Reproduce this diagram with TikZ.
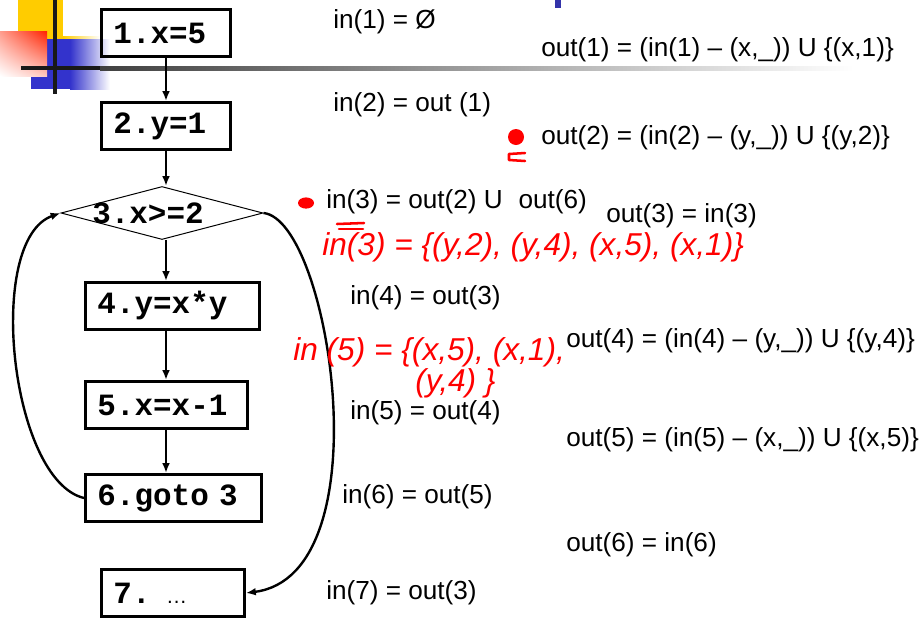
\documentclass[tikz,border=0pt]{standalone}
\usepackage{fontspec}
\setmainfont{Liberation Sans}
\setmonofont{Liberation Mono}
\usetikzlibrary{shapes.geometric, shadings, arrows.meta, positioning, calc}

\newcommand{\codefont}{\fontsize{22}{26}\selectfont\ttfamily\bfseries}
\newcommand{\eqfont}{\fontsize{18.6}{22}\selectfont}
\newcommand{\handfont}{\fontsize{22.5}{27}\selectfont\itshape}
\newcommand{\dotsfont}{\fontsize{15}{18}\selectfont\rmfamily\mdseries}

\definecolor{deckyellow}{HTML}{FFCC00}
\definecolor{deckblue}{HTML}{3333CC}
\definecolor{deckred}{HTML}{FF2200}
\definecolor{titleblue}{HTML}{3333AA}

\begin{document}
\begin{tikzpicture}[x=0.025cm, y=-0.025cm,
    stmt/.style={draw, line width=2.1pt, font=\codefont, anchor=west, align=left,
        inner xsep=0.3cm, inner ysep=0pt, minimum height=1.175cm},
    cond/.style={diamond, draw, line width=0.7pt, fill=white, inner sep=0pt,
        minimum width=5.05cm, minimum height=1.325cm},
    flow/.style={-{Latex[length=7pt, width=5.5pt]}, line width=1.4pt},
    back/.style={-{Latex[length=7pt, width=5.5pt]}, line width=1.7pt},
    eq/.style={anchor=west, inner sep=0pt, font=\eqfont},
    hand/.style={anchor=west, inner sep=0pt, text=red, font=\handfont},
    ink/.style={red, line width=1.8pt, line cap=round, line join=round}
]
    \useasboundingbox (0,0) rectangle (924,619);

    % slide decoration
    \fill[deckyellow] (18,0) rectangle (63,39);
    \shade[left color=deckyellow, right color=white] (63,36) rectangle (100,40);
    \fill[deckblue] (31,39) rectangle (70,89);
    \shade[left color=deckblue, right color=white] (70,39) rectangle (110,89);
    \shade[upper left=deckred!45!white, upper right=deckred,
           lower left=white, lower right=deckred!25!white] (0,31) rectangle (47,76);
    \fill[black!90] (53,0) rectangle (57,94);
    \fill[black!90] (21,66) rectangle (100,70);
    \shade[left color=black!75, right color=white] (100,66) rectangle (853,70);
    \fill[titleblue] (555,0) rectangle (561,8);

    % flow graph
    \node[stmt, text width=2.625cm] (n1) at (100,33) {1.x=5};
    \node[stmt, text width=2.625cm] (n2) at (100,126) {2.y=1};
    \node[cond] (n3) at (162,213) {};
    \node[font=\codefont] at (148,213) {3.x>=2};
    \node[stmt, text width=3.75cm] (n4) at (84,306) {4.y=x*y};
    \node[stmt, text width=3.45cm] (n5) at (84,405) {5.x=x-1};
    \node[stmt, text width=3.8cm] (n6) at (84,498) {6.goto 3};
    \node[stmt, text width=2.975cm] (n7) at (100,593) {7. {\dotsfont …}};

    \draw[flow] (n1) -- (n2);
    \draw[flow] (n2.south) -- (n2.south |- n3.north);
    \draw[flow] (n3.south -| n2.south) -- (n2.south |- n4.north);
    \draw[flow] (n4.south -| n2.south) -- (n2.south |- n5.north);
    \draw[flow] (n5.south -| n2.south) -- (n2.south |- n6.north);
    \draw[back] (n6.west) .. controls (10,480) and (-15,240) .. (n3.west);
    \draw[back] (n3.east) .. controls (330,220) and (385,575) .. (n7.east);

    % equations
    \node[eq] (in1) at (333,22) {in(1) = Ø};
    \node[eq] (out1) at (541,50) {out(1) = (in(1) – (x,\_)) U \{(x,1)\}};
    \node[eq] (in2) at (333,105) {in(2) = out (1)};
    \node[eq] (out2) at (541,138) {out(2) = (in(2) – (y,\_)) U \{(y,2)\}};
    \node[eq] (in3) at (326,202) {in(3) = out(2) U\hspace{0.6em}out(6)};
    \node[eq] (out3) at (606,216) {out(3) = in(3)};
    \node[eq] (in4) at (350,298) {in(4) = out(3)};
    \node[eq] (out4) at (566,341) {out(4) = (in(4) – (y,\_)) U \{(y,4)\}};
    \node[eq] (in5) at (350,413) {in(5) = out(4)};
    \node[eq] (out5) at (566,440) {out(5) = (in(5) – (x,\_)) U \{(x,5)\}};
    \node[eq] (in6) at (342,497) {in(6) = out(5)};
    \node[eq] (out6) at (566,545) {out(6) = in(6)};
    \node[eq] (in7) at (326,593) {in(7) = out(3)};

    % red pen notes
    \fill[red] (306,203) ellipse [x radius=0.2cm, y radius=0.14cm];
    \fill[red] (516,137) circle [radius=0.2cm];
    \draw[ink] (525,153) -- (509,154) -- (509,160) -- (525,161);
    \node[hand] (hand3) at (322,247) {in(3) = \{(y,2), (y,4), (x,5), (x,1)\}};
    \draw[ink] (337,224) -- (364,223);
    \draw[ink] (339,229) -- (363,229);
    \node[hand] (hand5a) at (293,352) {in (5) = \{(x,5), (x,1),};
    \node[hand] (hand5b) at (415,383) {(y,4) \}};
\end{tikzpicture}
\end{document}
